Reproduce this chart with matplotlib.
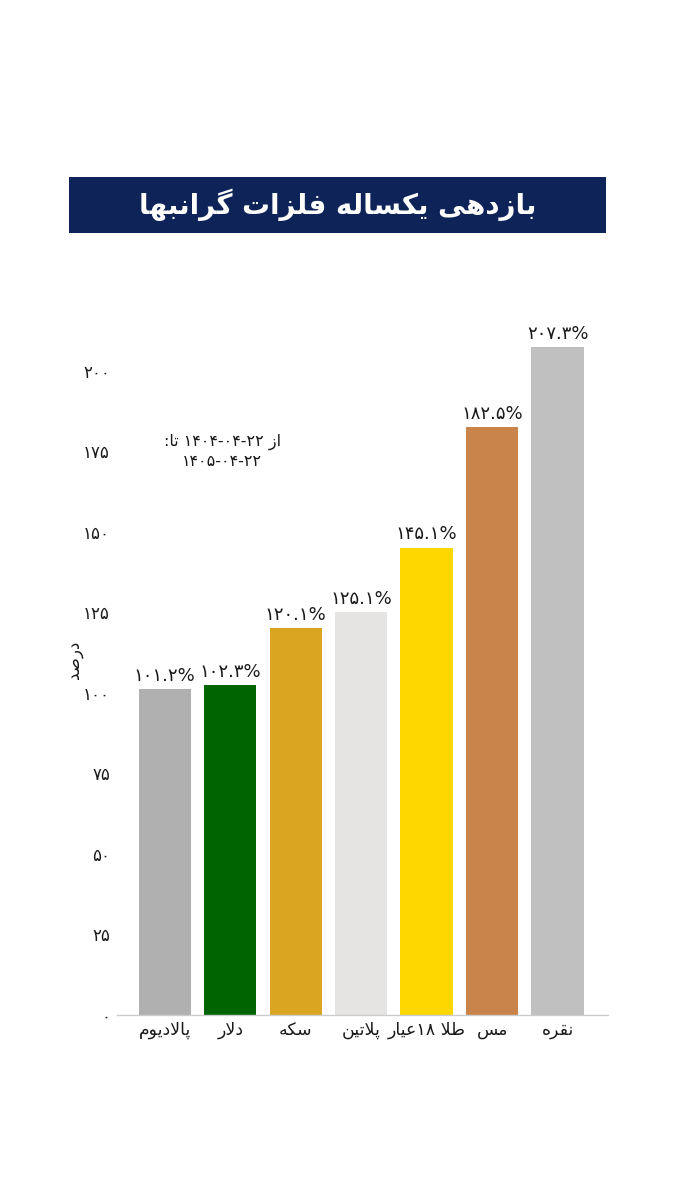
import matplotlib
matplotlib.use("Agg")
import matplotlib.pyplot as plt
from matplotlib.patches import Rectangle

# ---------------- data ----------------
categories = ["پالادیوم", "دلار", "سکه", "پلاتین", "طلا ۱۸عیار", "مس", "نقره"]
returns = [101.2, 102.3, 120.1, 125.1, 145.1, 182.5, 207.3]
colors = ["#B0B0B0", "#006400", "#DAA520", "#E5E4E2", "#FFD700", "#C8844A", "#C0C0C0"]
y_ticks = [0, 25, 50, 75, 100, 125, 150, 175, 200]
title = "بازدهی یکساله فلزات گرانبها"
y_label = "درصد"
date_from = "1404-04-22"
date_to = "1405-04-22"

# ---------------- minimal Persian shaping (presentation forms, visual order) ----------------
FORMS = {
    "ا": ("\uFE8D", "\uFE8E"),
    "ب": ("\uFE8F", "\uFE90", "\uFE91", "\uFE92"),
    "پ": ("\uFB56", "\uFB57", "\uFB58", "\uFB59"),
    "ت": ("\uFE95", "\uFE96", "\uFE97", "\uFE98"),
    "د": ("\uFEA9", "\uFEAA"),
    "ر": ("\uFEAD", "\uFEAE"),
    "ز": ("\uFEAF", "\uFEB0"),
    "س": ("\uFEB1", "\uFEB2", "\uFEB3", "\uFEB4"),
    "ص": ("\uFEB9", "\uFEBA", "\uFEBB", "\uFEBC"),
    "ط": ("\uFEC1", "\uFEC2", "\uFEC3", "\uFEC4"),
    "ع": ("\uFEC9", "\uFECA", "\uFECB", "\uFECC"),
    "ف": ("\uFED1", "\uFED2", "\uFED3", "\uFED4"),
    "ق": ("\uFED5", "\uFED6", "\uFED7", "\uFED8"),
    "ک": ("\uFB8E", "\uFB8F", "\uFB90", "\uFB91"),
    "گ": ("\uFB92", "\uFB93", "\uFB94", "\uFB95"),
    "ل": ("\uFEDD", "\uFEDE", "\uFEDF", "\uFEE0"),
    "م": ("\uFEE1", "\uFEE2", "\uFEE3", "\uFEE4"),
    "ن": ("\uFEE5", "\uFEE6", "\uFEE7", "\uFEE8"),
    "ه": ("\uFEE9", "\uFEEA", "\uFEEB", "\uFEEC"),
    "و": ("\uFEED", "\uFEEE"),
    "ی": ("\uFBFC", "\uFBFD", "\uFBFE", "\uFBFF"),
}


def dual(c):
    return c in FORMS and len(FORMS[c]) == 4


def shape_word(word):
    out = []
    i = 0
    n = len(word)
    while i < n:
        c = word[i]
        prev = word[i - 1] if i > 0 else ""
        jp = c in FORMS and dual(prev) and i > 0
        if c == "ل" and i + 1 < n and word[i + 1] == "ا":
            out.append("\uFEFC" if jp else "\uFEFB")
            i += 2
            continue
        if c not in FORMS:
            out.append(c)
            i += 1
            continue
        nxt = word[i + 1] if i + 1 < n else ""
        jn = dual(c) and nxt in FORMS
        f = FORMS[c]
        if jp and jn:
            out.append(f[3])
        elif jn:
            out.append(f[2])
        elif jp:
            out.append(f[1])
        else:
            out.append(f[0])
        i += 1
    return "".join(reversed(out))


FA_DIGITS = str.maketrans("0123456789", "۰۱۲۳۴۵۶۷۸۹")


def fa(s):
    return str(s).translate(FA_DIGITS)


def visual(text):
    """Visual (left-to-right) form of an RTL phrase; digit runs keep their order."""
    words = text.split(" ")
    parts = []
    for w in words:
        runs = []
        cur = ""
        cur_digit = None
        for ch in w:
            isd = ch in "۰۱۲۳۴۵۶۷۸۹0123456789"
            if cur_digit is None or isd == cur_digit:
                cur += ch
            else:
                runs.append((cur, cur_digit))
                cur = ch
            cur_digit = isd
        if cur:
            runs.append((cur, cur_digit))
        vis = [r if d else shape_word(r) for r, d in runs]
        parts.append("".join(reversed(vis)))
    return " ".join(reversed(parts))


# ---------------- figure ----------------
plt.rcParams["font.family"] = ["DejaVu Sans"]
fig = plt.figure(figsize=(6.75, 12), dpi=100)
fig.patch.set_facecolor("white")

# title banner
fig.patches.append(Rectangle((69 / 675, 1 - 233 / 1200), (606 - 69) / 675, 56 / 1200,
                             transform=fig.transFigure, facecolor="#0E2358",
                             edgecolor="none", zorder=0))
fig.text(0.5, 1 - 205 / 1200, visual(title), color="white", fontsize=20,
         fontweight="bold", ha="center", va="center")

ax = fig.add_axes([117 / 675, 185 / 1200, (608 - 117) / 675, (1015 - 274) / 1200])
x = list(range(len(categories)))
bars = ax.bar(x, returns, width=0.8, color=colors, zorder=2)
ax.bar_label(bars, labels=[fa(f"{v:.1f}") + "%" for v in returns], padding=3,
             fontsize=13, color="#1a1a1a")

ax.set_xlim(-0.73, 6.77)
ax.set_ylim(0, 230)
ax.set_xticks(x)
ax.set_xticklabels([visual(c) for c in categories], fontsize=12.5, color="#1a1a1a")
ax.set_yticks(y_ticks)
ax.set_yticklabels([fa(t) for t in y_ticks], fontsize=12, color="#1a1a1a")
ax.tick_params(axis="both", length=0)
ax.tick_params(axis="y", pad=5)
ax.tick_params(axis="x", pad=4)

for s in ["top", "right", "left"]:
    ax.spines[s].set_visible(False)
ax.spines["bottom"].set_color("#CCCCCC")
ax.spines["bottom"].set_linewidth(1)

ax.set_ylabel(shape_word(y_label), fontsize=12, color="#1a1a1a")
ax.yaxis.set_label_coords(-0.07, 0.48)

line1 = ":" + shape_word("تا") + " " + fa(date_from) + " " + shape_word("از")
line2 = fa(date_to)
ax.text(0.88, 175, line1 + "\n" + line2, fontsize=11.5, ha="center", va="center",
        color="#1a1a1a", linespacing=1.35)

fig.savefig("out.png", dpi=100, facecolor="white")
